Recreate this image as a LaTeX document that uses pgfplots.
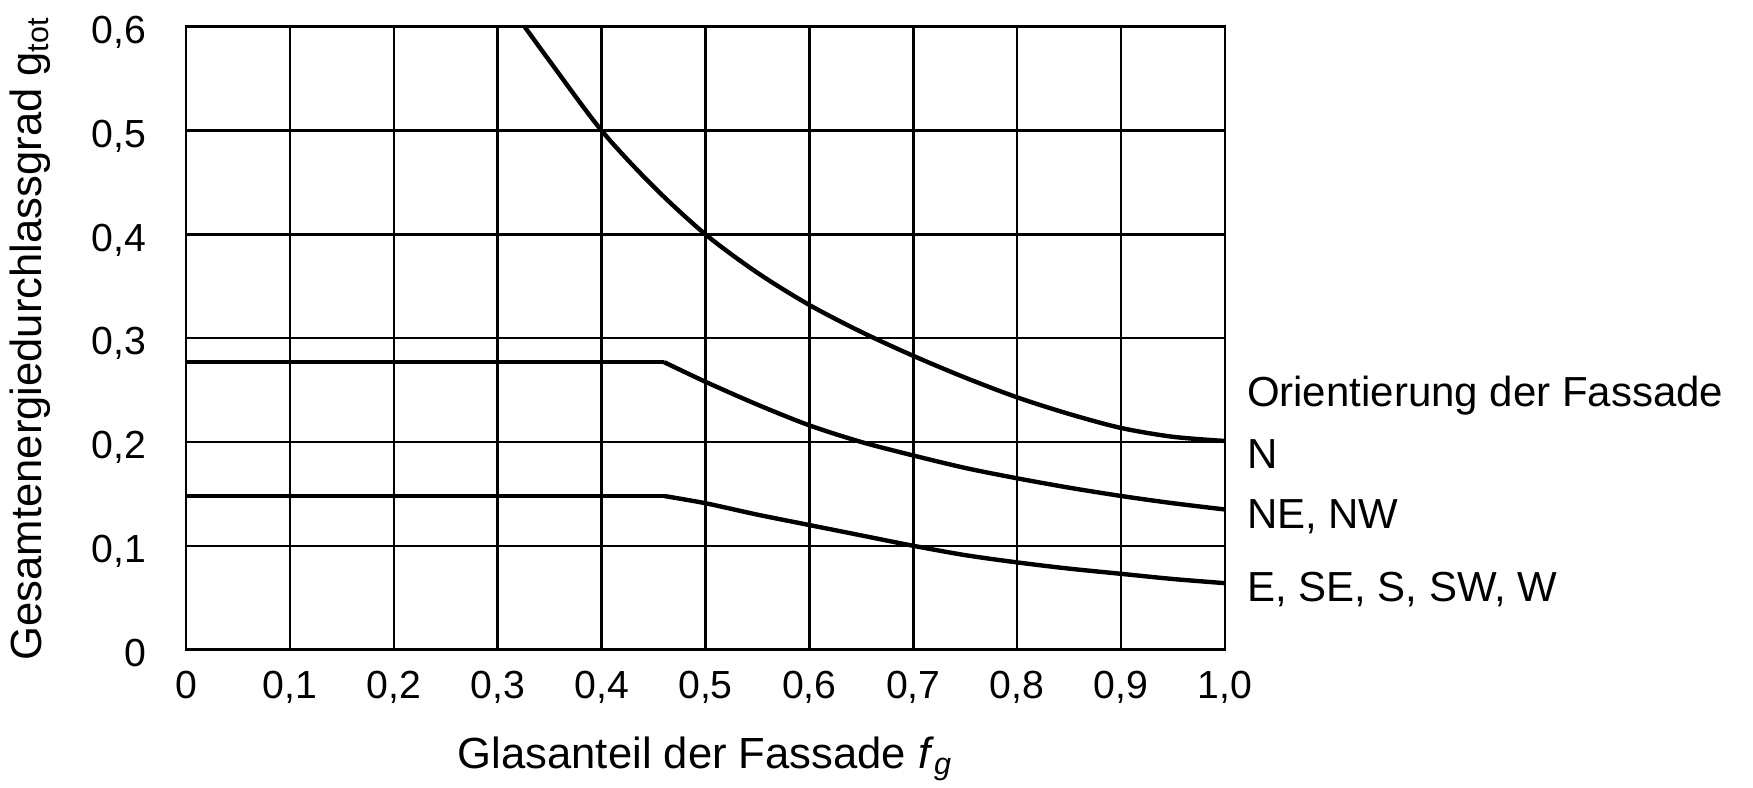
\documentclass[border=0pt]{standalone}
\usepackage{fontspec}
\setmainfont{Liberation Sans}
\usepackage{pgfplots}
\pgfplotsset{compat=1.18}
\begin{document}
\begin{tikzpicture}
\path[use as bounding box] (-46.5bp,-34.6bp) rectangle (391.75bp,162.4bp);
\begin{axis}[
  at={(0,0)}, anchor=south west,
  scale only axis, width=259.75bp, height=155.7bp,
  xmin=0, xmax=1, ymin=0, ymax=0.6,
  clip=false,
  xtick={0,0.1,0.2,0.3,0.4,0.5,0.6,0.7,0.8,0.9,1},
  xticklabels={0,{0,1},{0,2},{0,3},{0,4},{0,5},{0,6},{0,7},{0,8},{0,9},{1,0}},
  ytick={0,0.1,0.2,0.3,0.4,0.5,0.6},
  yticklabels={0,{0,1},{0,2},{0,3},{0,4},{0,5},{0,6}},
  major tick length=0pt,
  grid=major,
  major grid style={black, line width=0.6bp},
  axis line style={black, line width=0.7bp},
  tick label style={font=\fontsize{9.8bp}{11bp}\selectfont, inner sep=0pt},
  xticklabel style={anchor=base, yshift=-12.2bp},
  yticklabel style={anchor=base east, xshift=-9.8bp, yshift=-4.15bp},
  label style={font=\fontsize{10.9bp}{13bp}\selectfont, inner sep=0pt},
  xlabel={Glasanteil der Fassade \textit{f}\textsubscript{\textit{g}}},
  xlabel style={at={(axis description cs:0.5,0)}, anchor=base, yshift=-29.7bp},
  ylabel={Gesamtenergiedurchlassgrad g\textsubscript{tot}},
  ylabel style={at={(axis description cs:-0.139,0.5)}, anchor=base},
]
% N
\addplot[black, line width=1.1bp, smooth] coordinates {
 (0.326,0.6) (0.35,0.567) (0.4,0.5) (0.45,0.446) (0.5,0.4) (0.55,0.363)
 (0.6,0.332) (0.65,0.306) (0.7,0.283) (0.75,0.262) (0.8,0.243) (0.85,0.227)
 (0.9,0.2135) (0.95,0.205) (1.0,0.201)};
% NE, NW
\addplot[black, line width=1.1bp] coordinates {(0,0.277) (0.46,0.277)};
\addplot[black, line width=1.1bp, smooth] coordinates {
 (0.46,0.277) (0.5,0.258) (0.55,0.236) (0.6,0.216) (0.65,0.2) (0.7,0.187)
 (0.75,0.175) (0.8,0.165) (0.85,0.156) (0.9,0.148) (0.95,0.141) (1.0,0.135)};
% E, SE, S, SW, W
\addplot[black, line width=1.1bp] coordinates {(0,0.148) (0.46,0.148)};
\addplot[black, line width=1.1bp, smooth] coordinates {
 (0.46,0.148) (0.5,0.141) (0.55,0.13) (0.6,0.12) (0.65,0.11) (0.7,0.1)
 (0.75,0.091) (0.8,0.084) (0.85,0.078) (0.9,0.073) (0.95,0.068) (1.0,0.064)};
\begin{scope}[every node/.style={anchor=base west, inner sep=0pt, xshift=5.3bp, font=\fontsize{10.5bp}{13bp}\selectfont}]
\node at (axis cs:1,0.234) {Orientierung der Fassade};
\node at (axis cs:1,0.174) {N};
\node at (axis cs:1,0.117) {NE, NW};
\node at (axis cs:1,0.046) {E, SE, S, SW, W};
\end{scope}
\end{axis}
\end{tikzpicture}
\end{document}
